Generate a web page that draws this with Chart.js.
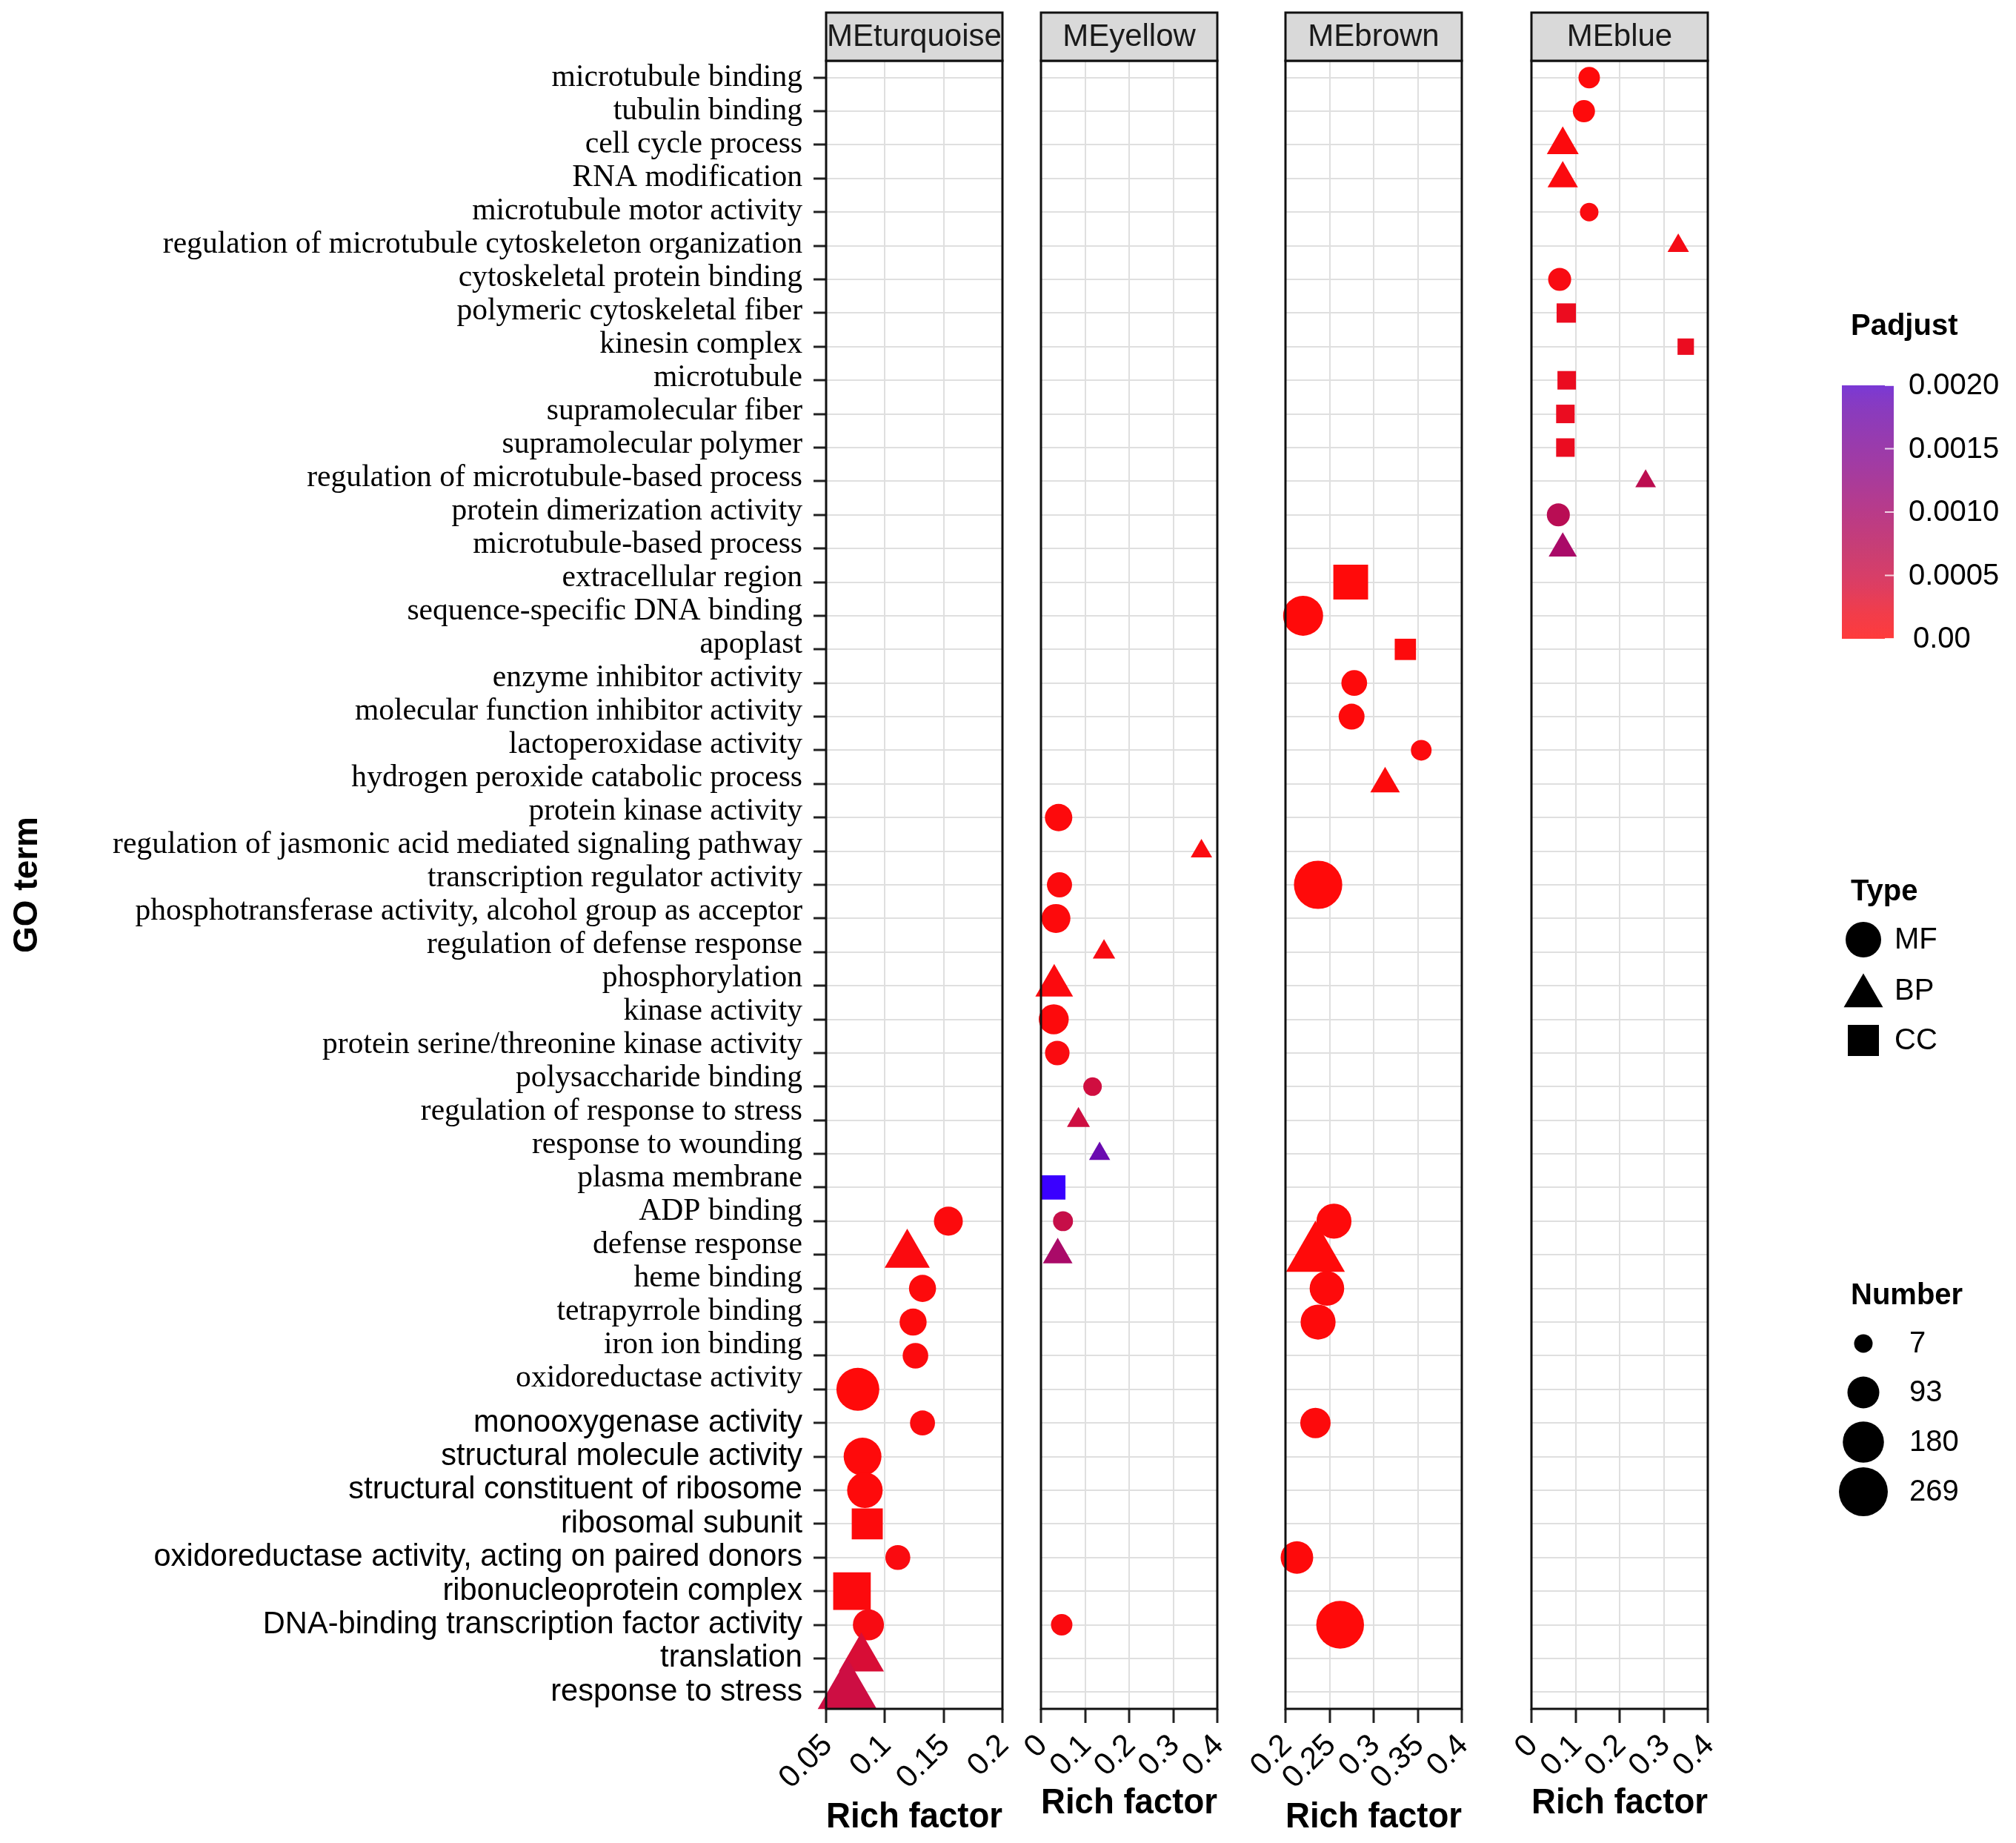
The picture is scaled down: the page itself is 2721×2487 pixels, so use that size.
<!DOCTYPE html>
<html>
<head>
<meta charset="utf-8">
<script src="https://cdn.jsdelivr.net/npm/chart.js@4.4.1/dist/chart.umd.min.js"></script>
<style>
html, body { margin: 0; padding: 0; background: #ffffff; overflow: hidden; }
#wrap { position: relative; width: 2721px; height: 2487px; }
#wrap canvas { position: absolute; left: 0; top: 0; }
</style>
</head>
<body>
<div id="wrap">
  <canvas id="c0" width="2721" height="2487"></canvas>
  <canvas id="c1" width="2721" height="2487"></canvas>
  <canvas id="c2" width="2721" height="2487"></canvas>
  <canvas id="c3" width="2721" height="2487"></canvas>
</div>
<script>
// ---------------- DATA ----------------
const terms = [
  'microtubule binding', 'tubulin binding', 'cell cycle process', 'RNA modification',
  'microtubule motor activity', 'regulation of microtubule cytoskeleton organization',
  'cytoskeletal protein binding', 'polymeric cytoskeletal fiber', 'kinesin complex', 'microtubule',
  'supramolecular fiber', 'supramolecular polymer', 'regulation of microtubule-based process',
  'protein dimerization activity', 'microtubule-based process', 'extracellular region',
  'sequence-specific DNA binding', 'apoplast', 'enzyme inhibitor activity',
  'molecular function inhibitor activity', 'lactoperoxidase activity',
  'hydrogen peroxide catabolic process', 'protein kinase activity',
  'regulation of jasmonic acid mediated signaling pathway', 'transcription regulator activity',
  'phosphotransferase activity, alcohol group as acceptor', 'regulation of defense response',
  'phosphorylation', 'kinase activity', 'protein serine/threonine kinase activity',
  'polysaccharide binding', 'regulation of response to stress', 'response to wounding',
  'plasma membrane', 'ADP binding', 'defense response', 'heme binding', 'tetrapyrrole binding',
  'iron ion binding', 'oxidoreductase activity', 'monooxygenase activity',
  'structural molecule activity', 'structural constituent of ribosome', 'ribosomal subunit',
  'oxidoreductase activity, acting on paired donors', 'ribonucleoprotein complex',
  'DNA-binding transcription factor activity', 'translation', 'response to stress'
];
const termTypes = [
  'MF','MF','BP','BP','MF','BP','MF','CC','CC','CC','CC','CC','BP','MF','BP',
  'CC','MF','CC','MF','MF','MF','BP','MF','BP','MF','MF','BP','BP','MF','MF',
  'MF','BP','BP','CC','MF','BP','MF','MF','MF','MF','MF','MF','MF','CC','MF',
  'CC','MF','BP','BP'
];
const modules = ['MEturquoise', 'MEyellow', 'MEbrown', 'MEblue'];

const turquoiseTerms = ['ADP binding','defense response','heme binding','tetrapyrrole binding','iron ion binding','oxidoreductase activity','monooxygenase activity','structural molecule activity','structural constituent of ribosome','ribosomal subunit','oxidoreductase activity, acting on paired donors','ribonucleoprotein complex','DNA-binding transcription factor activity','translation','response to stress'];
const turquoiseRich  = [0.154, 0.119, 0.132, 0.124, 0.126, 0.077, 0.132, 0.081, 0.083, 0.085, 0.111, 0.072, 0.086, 0.080, 0.068];
const turquoiseCount = [70, 144, 57, 57, 47, 199, 43, 146, 125, 120, 43, 193, 87, 144, 262];
const turquoisePadj  = [3e-5, 5e-5, 2e-5, 2e-5, 3e-5, 1e-6, 4e-5, 1e-5, 1e-5, 2e-5, 6e-5, 3e-5, 8e-5, 3.9e-4, 5.0e-4];

const yellowTerms = ['protein kinase activity','regulation of jasmonic acid mediated signaling pathway','transcription regulator activity','phosphotransferase activity, alcohol group as acceptor','regulation of defense response','phosphorylation','kinase activity','protein serine/threonine kinase activity','polysaccharide binding','regulation of response to stress','response to wounding','plasma membrane','ADP binding','defense response','DNA-binding transcription factor activity'];
const yellowRich  = [0.040, 0.364, 0.042, 0.034, 0.143, 0.030, 0.029, 0.037, 0.117, 0.085, 0.133, 0.028, 0.050, 0.038, 0.047];
const yellowCount = [59, 11, 44, 70, 15, 93, 78, 40, 7, 17, 10, 59, 14, 47, 22];
const yellowPadj  = [2e-5, 5e-5, 3e-5, 2e-5, 8e-5, 4e-5, 2e-5, 6e-5, 4.6e-4, 4.8e-4, 1.84e-3, 2.3e-3, 5.8e-4, 9.7e-4, 5e-5];

const brownTerms = ['extracellular region','sequence-specific DNA binding','apoplast','enzyme inhibitor activity','molecular function inhibitor activity','lactoperoxidase activity','hydrogen peroxide catabolic process','transcription regulator activity','ADP binding','defense response','heme binding','tetrapyrrole binding','monooxygenase activity','oxidoreductase activity, acting on paired donors','DNA-binding transcription factor activity'];
const brownRich  = [0.274, 0.220, 0.336, 0.278, 0.275, 0.354, 0.313, 0.237, 0.255, 0.234, 0.247, 0.237, 0.234, 0.213, 0.262];
const brownCount = [160, 168, 37, 48, 49, 18, 47, 262, 120, 260, 116, 120, 81, 99, 255];
const brownPadj  = [1e-6, 1e-6, 2e-5, 1e-5, 1e-5, 3e-5, 2e-5, 1e-6, 1e-5, 1e-6, 1e-5, 1e-5, 2e-5, 1e-5, 1e-6];

const blueTerms = ['microtubule binding','tubulin binding','cell cycle process','RNA modification','microtubule motor activity','regulation of microtubule cytoskeleton organization','cytoskeletal protein binding','polymeric cytoskeletal fiber','kinesin complex','microtubule','supramolecular fiber','supramolecular polymer','regulation of microtubule-based process','protein dimerization activity','microtubule-based process'];
const blueRich  = [0.131, 0.119, 0.071, 0.071, 0.131, 0.333, 0.064, 0.079, 0.350, 0.080, 0.077, 0.077, 0.259, 0.061, 0.071];
const blueCount = [22, 26, 59, 51, 7, 11, 31, 24, 7, 19, 19, 19, 8, 31, 40];
const bluePadj  = [1e-5, 1.5e-5, 3e-5, 5e-5, 6e-5, 1.2e-4, 8e-5, 2.2e-4, 2.3e-4, 2.3e-4, 2.3e-4, 2.3e-4, 6.9e-4, 7.4e-4, 9.7e-4];

const xMin = [0.05, 0, 0.2, 0];
const xMax = [0.2, 0.4, 0.4, 0.4];
const xTickValues = [[0.05, 0.1, 0.15, 0.2], [0, 0.1, 0.2, 0.3, 0.4], [0.2, 0.25, 0.3, 0.35, 0.4], [0, 0.1, 0.2, 0.3, 0.4]];
const xTickLabels = [['0.05', '0.1', '0.15', '0.2'], ['0', '0.1', '0.2', '0.3', '0.4'], ['0.2', '0.25', '0.3', '0.35', '0.4'], ['0', '0.1', '0.2', '0.3', '0.4']];

const padjTicks = [0, 0.0005, 0.001, 0.0015, 0.002];
const padjTickLabels = ['0.00', '0.0005', '0.0010', '0.0015', '0.0020'];
const typeLevels = ['MF', 'BP', 'CC'];
const numberBreaks = [7, 93, 180, 269];

// ---------------- STYLE ----------------
const W = 2721, H = 2487;
const panelLeft  = [1115, 1405, 1735, 2067];
const panelRight = [1353, 1643, 1973, 2305];
const plotTop = 82, plotBottom = 2306;
const axisH = [175.8, 156.8, 175.8, 156.8];
const SANS = "'Liberation Sans', Arial, sans-serif";
const SERIF = "'Liberation Serif', 'Times New Roman', serif";
const GRID = '#dfdfdf';

const PMAX = 0.0023;
const rampT = [0, 0.1, 0.2, 0.3, 0.42, 0.6, 0.8, 1.0];
const rampRGB = [[255,10,10],[235,12,32],[208,14,64],[188,14,80],[170,10,104],[138,10,140],[106,10,176],[58,0,255]];
function rgbFor(p) {
  let t = Math.max(0, Math.min(1, p / PMAX));
  for (let k = 1; k < rampT.length; k++) {
    if (t <= rampT[k]) {
      const f = (t - rampT[k-1]) / (rampT[k] - rampT[k-1]);
      const a = rampRGB[k-1], b = rampRGB[k];
      return [0,1,2].map(j => Math.round(a[j] + (b[j] - a[j]) * f));
    }
  }
  return rampRGB[rampRGB.length - 1];
}
function colorFor(p, alpha) {
  const c = rgbFor(p);
  return alpha === undefined ? `rgb(${c[0]},${c[1]},${c[2]})` : `rgba(${c[0]},${c[1]},${c[2]},${alpha})`;
}
function diam(n) { return Math.sqrt(525 + 14.24 * n); }
function radiusFor(type, n) {
  const d = diam(n);
  if (type === 'MF') return d / 2;
  if (type === 'BP') return (1.3 * d - 5) / Math.sqrt(3);
  return 0.886 * d / Math.SQRT2;
}
const styleOf = { MF: 'circle', BP: 'triangle', CC: 'rect' };

function buildPoints(tl, rich, cnt, pj) {
  return tl.map((t, k) => ({ x: rich[k], y: t, n: cnt[k], p: pj[k], type: termTypes[terms.indexOf(t)] }));
}
const moduleData = [
  buildPoints(turquoiseTerms, turquoiseRich, turquoiseCount, turquoisePadj),
  buildPoints(yellowTerms, yellowRich, yellowCount, yellowPadj),
  buildPoints(brownTerms, brownRich, brownCount, brownPadj),
  buildPoints(blueTerms, blueRich, blueCount, bluePadj)
];

function labelShift(i) { return i <= 39 ? 15 * i / 39 : 0; }

const panelPlugin = {
  id: 'panelDeco',
  afterDatasetsDraw(chart) {
    const ctx = chart.ctx, a = chart.chartArea;
    const idx = chart.options.plugins.panelDeco.index;
    ctx.save();
    ctx.strokeStyle = '#111';
    ctx.lineWidth = 3;
    ctx.strokeRect(a.left, a.top, a.right - a.left, a.bottom - a.top);
    const hTop = 17, hH = a.top - hTop;
    ctx.fillStyle = '#d9d9d9';
    ctx.fillRect(a.left, hTop, a.right - a.left, hH);
    ctx.strokeRect(a.left, hTop, a.right - a.left, hH);
    ctx.fillStyle = '#1a1a1a';
    ctx.font = `42px ${SANS}`;
    ctx.textAlign = 'center';
    ctx.textBaseline = 'middle';
    ctx.fillText(modules[idx], (a.left + a.right) / 2, hTop + hH / 2 + 1);
    ctx.restore();
  }
};

function drawShape(ctx, type, x, y, r) {
  ctx.beginPath();
  if (type === 'MF') {
    ctx.arc(x, y, r, 0, Math.PI * 2);
  } else if (type === 'BP') {
    ctx.moveTo(x, y - r);
    ctx.lineTo(x + r * Math.sqrt(3) / 2, y + r / 2);
    ctx.lineTo(x - r * Math.sqrt(3) / 2, y + r / 2);
    ctx.closePath();
  } else {
    const s = r * Math.SQRT1_2;
    ctx.rect(x - s, y - s, 2 * s, 2 * s);
  }
  ctx.fill();
}

const legendPlugin = {
  id: 'sideLegend',
  afterDraw(chart) {
    const ctx = chart.ctx;
    ctx.save();
    ctx.textBaseline = 'middle';
    ctx.textAlign = 'left';
    ctx.fillStyle = '#000';
    // Padjust colourbar
    ctx.font = `bold 40px ${SANS}`;
    ctx.fillText('Padjust', 2498, 441);
    const bx = 2486, bw = 70, by0 = 862, by1 = 520;
    const g = ctx.createLinearGradient(0, by0, 0, by1);
    for (let k = 0; k <= 20; k++) {
      g.addColorStop(k / 20, colorFor(padjTicks[padjTicks.length - 1] * k / 20, 0.8));
    }
    ctx.fillStyle = g;
    ctx.fillRect(bx, by1, bw, by0 - by1);
    ctx.font = `40px ${SANS}`;
    ctx.fillStyle = '#000';
    const pmaxBar = padjTicks[padjTicks.length - 1];
    padjTicks.forEach((v, k) => {
      const y = by0 - (v / pmaxBar) * (by0 - by1);
      ctx.strokeStyle = 'rgba(255,255,255,0.8)';
      ctx.lineWidth = 2;
      ctx.beginPath(); ctx.moveTo(bx + bw - 12, y); ctx.lineTo(bx + bw, y); ctx.stroke();
      ctx.fillText(padjTickLabels[k], k === 0 ? 2582 : 2576, y + 1);
    });
    // Type legend
    ctx.font = `bold 40px ${SANS}`;
    ctx.fillText('Type', 2498, 1204);
    ctx.font = `40px ${SANS}`;
    const typeY = [1268, 1337, 1404];
    const typeR = { MF: 24, BP: 53 / Math.sqrt(3), CC: 42 / Math.SQRT2 };
    typeLevels.forEach((t, k) => {
      ctx.fillStyle = '#000';
      drawShape(ctx, t, 2515, t === 'BP' ? typeY[k] + 7 : typeY[k], typeR[t]);
      ctx.fillText(t, 2557, typeY[k] + 1);
    });
    // Number legend
    ctx.font = `bold 40px ${SANS}`;
    ctx.fillText('Number', 2498, 1749);
    ctx.font = `40px ${SANS}`;
    const numY = [1813, 1879, 1946, 2013];
    numberBreaks.forEach((n, k) => {
      ctx.fillStyle = '#000';
      drawShape(ctx, 'MF', 2515, numY[k], diam(n) / 2);
      ctx.fillText(String(n), 2577, numY[k] + 1);
    });
    ctx.restore();
  }
};

function makeChart(i) {
  const first = i === 0;
  const plugins = [panelPlugin];
  if (i === 3) plugins.push(legendPlugin);
  return new Chart(document.getElementById('c' + i), {
    type: 'scatter',
    data: {
      datasets: [{
        data: moduleData[i],
        clip: false,
        pointStyle: c => styleOf[c.raw.type],
        pointRadius: c => radiusFor(c.raw.type, c.raw.n),
        pointHoverRadius: c => radiusFor(c.raw.type, c.raw.n),
        pointBackgroundColor: c => colorFor(c.raw.p),
        pointBorderWidth: 0,
        pointBorderColor: 'rgba(0,0,0,0)'
      }]
    },
    options: {
      responsive: false,
      animation: false,
      devicePixelRatio: 1,
      events: [],
      layout: { padding: { left: 0, top: plotTop, right: W - panelRight[i], bottom: H - plotBottom - axisH[i] } },
      plugins: { legend: { display: false }, tooltip: { enabled: false }, panelDeco: { index: i } },
      scales: {
        x: {
          type: 'linear',
          min: xMin[i], max: xMax[i],
          afterBuildTicks: s => { s.ticks = xTickValues[i].map(v => ({ value: v })); },
          afterFit: s => { s.height = axisH[i]; },
          border: { display: false },
          grid: { color: GRID, lineWidth: 2, drawTicks: true, tickLength: 19, tickColor: '#222', tickWidth: 3 },
          ticks: {
            autoSkip: false, minRotation: 45, maxRotation: 45, padding: 6, labelOffset: 2,
            color: '#000', font: { family: SANS, size: 42 },
            callback: (v, k) => xTickLabels[i][k]
          },
          title: { display: true, text: 'Rich factor', color: '#000', padding: { top: 0, bottom: 0 },
                   font: { family: SANS, size: 48, weight: 'bold' } }
        },
        y: {
          type: 'category',
          labels: terms,
          offset: true,
          afterFit: s => { s.width = panelLeft[i]; },
          border: { display: false },
          grid: { color: GRID, lineWidth: 2, offset: false, drawTicks: first, tickLength: 17, tickColor: '#222', tickWidth: 3 },
          ticks: {
            display: first, autoSkip: false, padding: 15, color: '#000',
            callback: (v, k) => labelShift(k) > 0 ? [terms[k], ''] : terms[k],
            font: c => c.index <= 39
              ? { family: SERIF, size: 41.6, lineHeight: (2 * labelShift(c.index)) + 'px' }
              : { family: SANS, size: 41.6, lineHeight: 1.2 }
          },
          title: { display: first, text: 'GO term', color: '#000', padding: { top: 10, bottom: 0 },
                   font: { family: SANS, size: 46, weight: 'bold' } }
        }
      }
    },
    plugins: plugins
  });
}

Chart.defaults.font.family = SANS;
for (let i = 0; i < 4; i++) makeChart(i);
</script>
</body>
</html>
